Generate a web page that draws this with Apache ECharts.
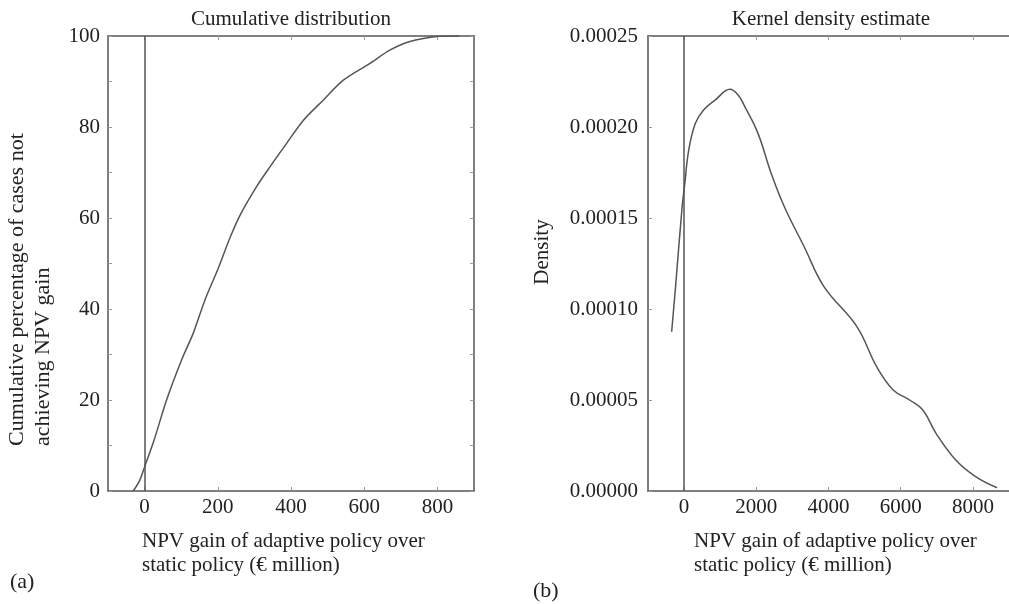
<!DOCTYPE html>
<html>
<head>
<meta charset="utf-8">
<script src="https://cdn.jsdelivr.net/npm/echarts@6/dist/echarts.min.js"></script>
<style>
  html, body { margin: 0; padding: 0; background: #fff; }
  #chart { width: 1009px; height: 604px; }
</style>
</head>
<body>
<div id="chart"></div>
<script>
// cumulative distribution (panel a)
const cdfGain = [-31, -13, 0, 26, 60, 101, 133, 165, 201, 233, 262, 306, 343, 388, 434, 488, 543, 616, 670, 725, 798, 834, 860];
const cdfPct = [0, 2.4, 5.3, 11.2, 20, 28.8, 34.7, 42, 48.9, 55.6, 60.8, 66.9, 71.3, 76.4, 81.5, 85.9, 90.3, 94, 96.9, 98.8, 99.9, 100, 100];

// kernel density estimate (panel b)
const kdeGain = [-345, -236, -55, 10, 129, 312, 540, 860, 1271, 1496, 1682, 2047, 2411, 2777, 3326, 3874, 4786, 5334, 5792, 6247, 6614, 6978, 7526, 8074, 8668];
const kdeDensity = [0.0000875, 0.0001123, 0.0001562, 0.0001672, 0.0001874, 0.000202, 0.0002093, 0.0002148, 0.0002207, 0.0002176, 0.0002112, 0.0001965, 0.0001746, 0.0001562, 0.0001342, 0.0001123, 0.0000903, 0.0000683, 0.0000555, 0.00005, 0.0000445, 0.0000317, 0.000017, 0.0000079, 0.0000018];

const cdfTicks = [0, 200, 400, 600, 800];
const pctLabels = [0, 20, 40, 60, 80, 100];
const kdeTicks = [0, 2000, 4000, 6000, 8000];

const FONT = 'Liberation Serif';
const TXT = '#222';
const AXIS = '#555';

const chart = echarts.init(document.getElementById('chart'));

const line = { show: true, onZero: false, lineStyle: { color: AXIS, width: 1.5 } };
const tick = (vals) => ({ show: true, inside: true, length: 4, lineStyle: { color: '#999' }, customValues: vals });
const yTick = { show: true, inside: true, length: 4, lineStyle: { color: '#999' } };
const label = { color: TXT, fontFamily: FONT, fontSize: 21 };

const zeroLine = {
  symbol: 'none',
  silent: true,
  label: { show: false },
  lineStyle: { color: AXIS, width: 1.5, type: 'solid' },
  data: [{ xAxis: 0 }]
};

const option = {
  animation: false,
  grid: [
    { left: 108, top: 36, right: 535, bottom: 113 },
    { left: 648, top: 36, right: -4, bottom: 113 }
  ],
  xAxis: [
    {
      gridIndex: 0, type: 'value', min: -100, max: 900, interval: 100,
      axisLine: line, splitLine: { show: false },
      axisTick: tick(cdfTicks),
      axisLabel: Object.assign({ margin: 6, customValues: cdfTicks, formatter: (v) => String(v) }, label)
    },
    {
      gridIndex: 0, type: 'value', position: 'top', min: -100, max: 900, interval: 100,
      axisLine: line, splitLine: { show: false },
      axisTick: tick(cdfTicks), axisLabel: { show: false }
    },
    {
      gridIndex: 1, type: 'value', min: -1000, max: 9000, interval: 1000,
      axisLine: line, splitLine: { show: false },
      axisTick: tick(kdeTicks),
      axisLabel: Object.assign({ margin: 6, customValues: kdeTicks, formatter: (v) => String(v) }, label)
    },
    {
      gridIndex: 1, type: 'value', position: 'top', min: -1000, max: 9000, interval: 1000,
      axisLine: line, splitLine: { show: false },
      axisTick: tick(kdeTicks), axisLabel: { show: false }
    }
  ],
  yAxis: [
    {
      gridIndex: 0, type: 'value', min: 0, max: 100, interval: 10,
      axisLine: line, splitLine: { show: false },
      axisTick: yTick,
      axisLabel: Object.assign({ margin: 8, customValues: pctLabels, formatter: (v) => String(v) }, label)
    },
    {
      gridIndex: 0, type: 'value', position: 'right', min: 0, max: 100, interval: 10,
      axisLine: line, splitLine: { show: false },
      axisTick: yTick,
      axisLabel: { show: false }
    },
    {
      gridIndex: 1, type: 'value', min: 0, max: 0.00025, interval: 0.00005,
      axisLine: line, splitLine: { show: false },
      axisTick: yTick,
      axisLabel: Object.assign({ margin: 10, formatter: (v) => v.toFixed(5) }, label)
    }
  ],
  series: [
    {
      type: 'line', xAxisIndex: 0, yAxisIndex: 0,
      data: cdfGain.map((g, i) => [g, cdfPct[i]]),
      showSymbol: false, smooth: 0.3,
      lineStyle: { color: AXIS, width: 1.5 },
      markLine: zeroLine
    },
    {
      type: 'line', xAxisIndex: 2, yAxisIndex: 2,
      data: kdeGain.map((g, i) => [g, kdeDensity[i]]),
      showSymbol: false, smooth: 0.4,
      lineStyle: { color: AXIS, width: 1.5 },
      markLine: zeroLine
    }
  ],
  graphic: [
    { type: 'text', x: 291, y: 19, style: { text: 'Cumulative distribution', fill: TXT, font: '21px ' + FONT, textAlign: 'center', textVerticalAlign: 'middle' } },
    { type: 'text', x: 831, y: 19, style: { text: 'Kernel density estimate', fill: TXT, font: '21px ' + FONT, textAlign: 'center', textVerticalAlign: 'middle' } },
    { type: 'text', x: 142, y: 553, style: { text: 'NPV gain of adaptive policy over\nstatic policy (€ million)', fill: TXT, font: '21px ' + FONT, lineHeight: 24, textAlign: 'left', textVerticalAlign: 'middle' } },
    { type: 'text', x: 694, y: 553, style: { text: 'NPV gain of adaptive policy over\nstatic policy (€ million)', fill: TXT, font: '21px ' + FONT, lineHeight: 24, textAlign: 'left', textVerticalAlign: 'middle' } },
    { type: 'text', x: 30, y: 446, rotation: Math.PI / 2, style: { text: 'Cumulative percentage of cases not\nachieving NPV gain', fill: TXT, font: '22px ' + FONT, lineHeight: 26, textAlign: 'left', textVerticalAlign: 'middle' } },
    { type: 'text', x: 542, y: 252, rotation: Math.PI / 2, style: { text: 'Density', fill: TXT, font: '21px ' + FONT, textAlign: 'center', textVerticalAlign: 'middle' } },
    { type: 'text', x: 10, y: 582, style: { text: '(a)', fill: TXT, font: '22px ' + FONT, textAlign: 'left', textVerticalAlign: 'middle' } },
    { type: 'text', x: 533, y: 591, style: { text: '(b)', fill: TXT, font: '22px ' + FONT, textAlign: 'left', textVerticalAlign: 'middle' } }
  ]
};

chart.setOption(option);
window.addEventListener('resize', () => chart.resize());
</script>
</body>
</html>
